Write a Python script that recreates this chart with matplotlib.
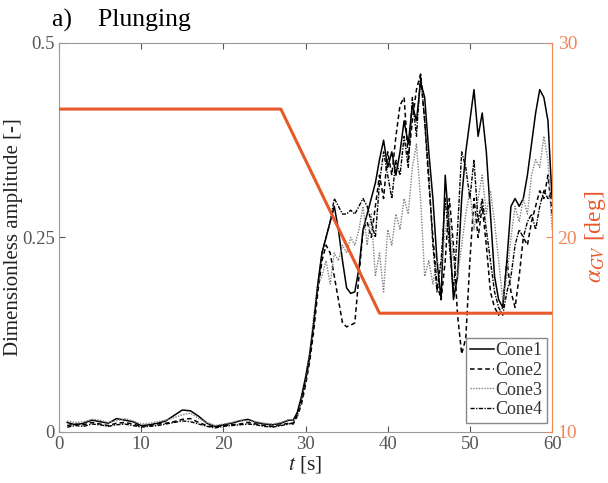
import matplotlib
matplotlib.use("Agg")
import matplotlib.pyplot as plt
import numpy as np

plt.rcParams["font.family"] = ["Liberation Serif", "DejaVu Serif"]
plt.rcParams["mathtext.fontset"] = "stix"

# time axis: 1 s steps before the rise, 0.5 s steps afterwards
t_low = list(range(1, 29))
t_high = [28.5 + 0.5 * i for i in range(64)]
t = np.array(t_low + t_high, dtype=float)

cone1 = [0.012, 0.009, 0.011, 0.015, 0.013, 0.011, 0.017, 0.015, 0.013, 0.008,
         0.009, 0.011, 0.014, 0.021, 0.028, 0.027, 0.020, 0.011, 0.007, 0.009,
         0.011, 0.014, 0.016, 0.012, 0.010, 0.009, 0.011, 0.015,
         0.015, 0.025, 0.045, 0.07, 0.10, 0.14, 0.19, 0.23, 0.25, 0.27,
         0.29, 0.26, 0.22, 0.185, 0.178, 0.18, 0.21, 0.26, 0.28, 0.30,
         0.32, 0.35, 0.375, 0.34, 0.36, 0.33, 0.36, 0.40, 0.37, 0.42,
         0.40, 0.45, 0.43, 0.36, 0.30, 0.22, 0.17, 0.33, 0.26, 0.17,
         0.20, 0.30, 0.36, 0.40, 0.44, 0.38, 0.41, 0.36, 0.28, 0.20,
         0.17, 0.16, 0.22, 0.29, 0.30, 0.29, 0.30, 0.33, 0.37, 0.41,
         0.44, 0.43, 0.40, 0.30]
cone2 = [0.008, 0.010, 0.009, 0.012, 0.010, 0.008, 0.011, 0.012, 0.010, 0.007,
         0.008, 0.010, 0.011, 0.013, 0.016, 0.017, 0.012, 0.008, 0.006, 0.008,
         0.009, 0.010, 0.012, 0.010, 0.008, 0.007, 0.009, 0.011,
         0.010, 0.020, 0.035, 0.06, 0.09, 0.13, 0.18, 0.22, 0.24, 0.23,
         0.20, 0.17, 0.14, 0.135, 0.137, 0.14, 0.20, 0.26, 0.27, 0.25,
         0.29, 0.33, 0.30, 0.36, 0.33, 0.38, 0.42, 0.43, 0.35, 0.40,
         0.44, 0.46, 0.40, 0.32, 0.25, 0.19, 0.17, 0.22, 0.30, 0.24,
         0.15, 0.10, 0.12, 0.22, 0.30, 0.25, 0.29, 0.24, 0.18, 0.16,
         0.15, 0.16, 0.22, 0.18, 0.16, 0.20, 0.25, 0.24, 0.27, 0.29,
         0.31, 0.30, 0.33, 0.28]
cone3 = [0.014, 0.012, 0.013, 0.016, 0.015, 0.012, 0.014, 0.017, 0.014, 0.010,
         0.011, 0.013, 0.015, 0.018, 0.022, 0.024, 0.017, 0.012, 0.008, 0.010,
         0.012, 0.015, 0.014, 0.013, 0.011, 0.010, 0.012, 0.016,
         0.015, 0.020, 0.040, 0.065, 0.10, 0.15, 0.19, 0.20, 0.22, 0.19,
         0.23, 0.22, 0.24, 0.23, 0.25, 0.24, 0.26, 0.29, 0.24, 0.28,
         0.20, 0.23, 0.18, 0.26, 0.24, 0.28, 0.26, 0.30, 0.28, 0.34,
         0.37, 0.30, 0.20, 0.22, 0.19, 0.22, 0.21, 0.26, 0.28, 0.22,
         0.20, 0.24, 0.28, 0.31, 0.26, 0.30, 0.33, 0.28, 0.31, 0.27,
         0.22, 0.17, 0.20, 0.25, 0.29, 0.27, 0.30, 0.28, 0.33, 0.35,
         0.34, 0.38, 0.35, 0.26]
cone4 = [0.006, 0.008, 0.007, 0.010, 0.009, 0.007, 0.009, 0.010, 0.008, 0.006,
         0.007, 0.008, 0.010, 0.012, 0.014, 0.013, 0.010, 0.007, 0.005, 0.007,
         0.008, 0.009, 0.010, 0.009, 0.007, 0.006, 0.008, 0.010,
         0.012, 0.022, 0.040, 0.065, 0.095, 0.14, 0.19, 0.23, 0.25, 0.27,
         0.30, 0.29, 0.28, 0.28, 0.285, 0.28, 0.29, 0.30, 0.29, 0.27,
         0.25, 0.32, 0.36, 0.33, 0.30, 0.35, 0.33, 0.38, 0.34, 0.43,
         0.38, 0.46, 0.40, 0.33, 0.24, 0.18, 0.22, 0.30, 0.24, 0.18,
         0.26, 0.36, 0.34, 0.30, 0.35, 0.27, 0.30, 0.26, 0.22, 0.18,
         0.16, 0.15, 0.18, 0.20, 0.24, 0.26, 0.25, 0.27, 0.28, 0.26,
         0.29, 0.31, 0.30, 0.31]

# guide vane angle
alpha_t = [0, 27, 39, 60]
alpha_gv = [26.6, 26.6, 16.1, 16.1]

orange = "#E8592A"
orange_light = "#F0875A"
gray = "#555555"

fig = plt.figure(figsize=(6.08, 4.83), dpi=100)
ax = fig.add_axes([0.097, 0.106, 0.811, 0.805])

ax.plot(t, cone1, color="black", lw=1.1, ls="-", label="Cone1")
ax.plot(t, cone2, color="black", lw=1.1, ls=(0, (3, 2)), label="Cone2")
ax.plot(t, cone3, color="#808080", lw=1.0, ls=(0, (1, 1)), label="Cone3")
ax.plot(t, cone4, color="black", lw=1.0, ls=(0, (3, 1, 1, 1)), label="Cone4")

ax.set_xlim(0, 60)
ax.set_ylim(0, 0.5)
ax.set_xticks([0, 10, 20, 30, 40, 50, 60])
ax.set_yticks([0, 0.25, 0.5])
ax.set_yticklabels(["0", "0.25", "0.5"])
ax.tick_params(direction="in", top=True, labelsize=13.5, colors=gray,
               length=4, pad=3)
for s in ["left", "bottom", "top"]:
    ax.spines[s].set_color("#999999")
ax.spines["right"].set_visible(False)
ax.set_ylabel("Dimensionless amplitude [-]", fontsize=15, color="#222222",
              va="center")
ax.yaxis.set_label_coords(-0.093, 0.5)
ax.set_xlabel(r"$t$ [s]", fontsize=15.5, color="#222222", labelpad=1)

leg = ax.legend(loc="lower right", fontsize=13, handlelength=1.3,
                handletextpad=0.1, labelspacing=0.15, borderpad=0.25,
                borderaxespad=0, fancybox=False, edgecolor="#888888",
                framealpha=1, bbox_to_anchor=(0.99, 0.023))
for txt in leg.get_texts():
    txt.set_color("#333333")

ax2 = ax.twinx()
ax2.plot(alpha_t, alpha_gv, color=orange, lw=2.2)
ax2.set_ylim(10, 30)
ax2.set_yticks([10, 20, 30])
ax2.tick_params(direction="in", labelsize=14, colors=orange_light, length=4,
                pad=4)
for s in ["left", "bottom", "top"]:
    ax2.spines[s].set_visible(False)
ax2.spines["right"].set_color(orange_light)
ax2.set_ylabel(r"$\alpha_{GV}$ [deg]", fontsize=17, color=orange, labelpad=4)

fig.text(0.085, 0.958, "a)    Plunging", fontsize=18.5, color="black",
         va="center", ha="left")

fig.savefig("out.png", dpi=100)
